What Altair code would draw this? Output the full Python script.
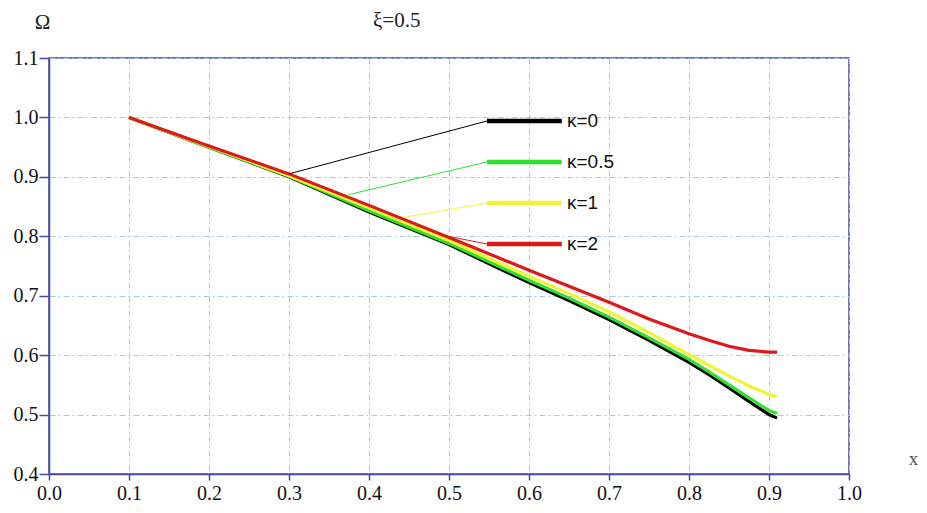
import altair as alt
import pandas as pd

# ---- data ----
x_vals = [0.1, 0.2, 0.3, 0.4, 0.5, 0.6, 0.65, 0.7, 0.75, 0.8, 0.825, 0.85, 0.875, 0.9, 0.91]
omega_k0 = [1.000, 0.950, 0.900, 0.841, 0.786, 0.722, 0.692, 0.660, 0.625, 0.588, 0.567, 0.545, 0.522, 0.500, 0.494]
omega_k05 = [1.000, 0.950, 0.901, 0.843, 0.788, 0.726, 0.696, 0.664, 0.629, 0.593, 0.572, 0.550, 0.528, 0.507, 0.502]
omega_k1 = [1.000, 0.951, 0.902, 0.848, 0.793, 0.733, 0.704, 0.673, 0.638, 0.601, 0.583, 0.565, 0.548, 0.534, 0.530]
omega_k2 = [1.000, 0.952, 0.905, 0.852, 0.798, 0.743, 0.716, 0.689, 0.661, 0.636, 0.625, 0.615, 0.608, 0.605, 0.605]

series_names = ["κ=0", "κ=0.5", "κ=1", "κ=2"]
series_values = [omega_k0, omega_k05, omega_k1, omega_k2]
series_colors = ["#000000", "#2fe02f", "#f3f335", "#dd1a1a"]

# legend (callout) placement in data coordinates
legend_row_y = [0.994, 0.925, 0.856, 0.787]
legend_seg_x = [0.5475, 0.641]
legend_text_x = 0.6475
callout_x = [0.300, 0.374, 0.445, 0.495]
callout_y = [0.905, 0.870, 0.832, 0.801]

x_ticks = [round(0.05 * i, 2) for i in range(21)]
y_ticks = [round(0.4 + 0.05 * i, 2) for i in range(15)]

rows = []
for name, vals in zip(series_names, series_values):
    for xv, yv in zip(x_vals, vals):
        rows.append({"x": xv, "omega": yv, "series": name})
df = pd.DataFrame(rows)

leg = pd.DataFrame({
    "series": series_names,
    "ly": legend_row_y,
    "lx0": [legend_seg_x[0]] * 4,
    "lx1": [legend_seg_x[1]] * 4,
    "tx": [legend_text_x] * 4,
    "cx": callout_x,
    "cy": callout_y,
})

AXIS_BLUE = "#4848a2"
GRID = "#a9c9e4"
major = "round(datum.value*20) % 2 == 0"
SERIF = "Liberation Serif"

xscale = alt.Scale(domain=[0, 1.0], nice=False, zero=False)
yscale = alt.Scale(domain=[0.4, 1.1], nice=False, zero=False)
cscale = alt.Scale(domain=series_names, range=series_colors)

x_axis = alt.Axis(
    values=x_ticks,
    labelExpr=f"{major} ? format(datum.value, '.1f') : ''",
    gridOpacity={"condition": {"test": major, "value": 1}, "value": 0},
    tickSize=6,
    labelPadding=3,
    title="x", titleFontSize=19, titleColor="#555555",
    titleX=864, titleY=-16, titleAlign="center", titleBaseline="middle", titleAngle=0,
)
y_axis = alt.Axis(
    values=y_ticks,
    labelExpr=f"{major} ? format(datum.value, '.1f') : ''",
    gridOpacity={"condition": {"test": major, "value": 1}, "value": 0},
    tickSize={"condition": {"test": major, "value": 10}, "value": 7},
    labelPadding=1,
    title="Ω", titleFontSize=21, titleColor="#222222",
    titleX=-7, titleY=-36, titleAlign="center", titleBaseline="middle", titleAngle=0,
)

lines = alt.Chart(df).mark_line(strokeWidth=3.2).encode(
    x=alt.X("x:Q", scale=xscale, axis=x_axis),
    y=alt.Y("omega:Q", scale=yscale, axis=y_axis),
    color=alt.Color("series:N", scale=cscale, legend=None),
    order=alt.Order("x:Q"),
)

callouts = alt.Chart(leg).mark_rule(strokeWidth=1).encode(
    x=alt.X("cx:Q", scale=xscale),
    y=alt.Y("cy:Q", scale=yscale),
    x2="lx0:Q",
    y2="ly:Q",
    color=alt.Color("series:N", scale=cscale, legend=None),
)

segs = alt.Chart(leg).mark_rule(strokeWidth=4.5).encode(
    x=alt.X("lx0:Q", scale=xscale),
    x2="lx1:Q",
    y=alt.Y("ly:Q", scale=yscale),
    color=alt.Color("series:N", scale=cscale, legend=None),
)

labels = alt.Chart(leg).mark_text(
    align="left", baseline="middle", font="Liberation Sans", fontSize=19, color="#111111"
).encode(
    x=alt.X("tx:Q", scale=xscale),
    y=alt.Y("ly:Q", scale=yscale),
    text="series:N",
)

chart = alt.layer(lines, callouts, segs, labels).properties(
    width=800,
    height=416,
    background="white",
    title=alt.TitleParams(
        "ξ=0.5", anchor="start", frame="group", dx=324, dy=20, offset=0,
        font=SERIF, fontSize=21, fontWeight="normal", color="#222222",
    ),
    autosize=alt.AutoSizeParams(type="none"),
    padding={"left": 41, "top": 50, "right": 70, "bottom": 35},
).configure_axis(
    grid=True, gridColor=GRID, gridDash=[6, 3, 2, 3], gridWidth=1,
    tickColor=AXIS_BLUE, tickWidth=1.5,
    domainColor=AXIS_BLUE, domainWidth=1.5,
    labelFont=SERIF, labelFontSize=20, labelColor="#111111",
    labelFlush=False, labelOverlap=False,
    titleFont=SERIF, titleFontWeight="normal",
).configure_view(
    stroke=AXIS_BLUE, strokeWidth=1.5
)

chart.save("out.html", embed_options={"renderer": "svg", "actions": False})
